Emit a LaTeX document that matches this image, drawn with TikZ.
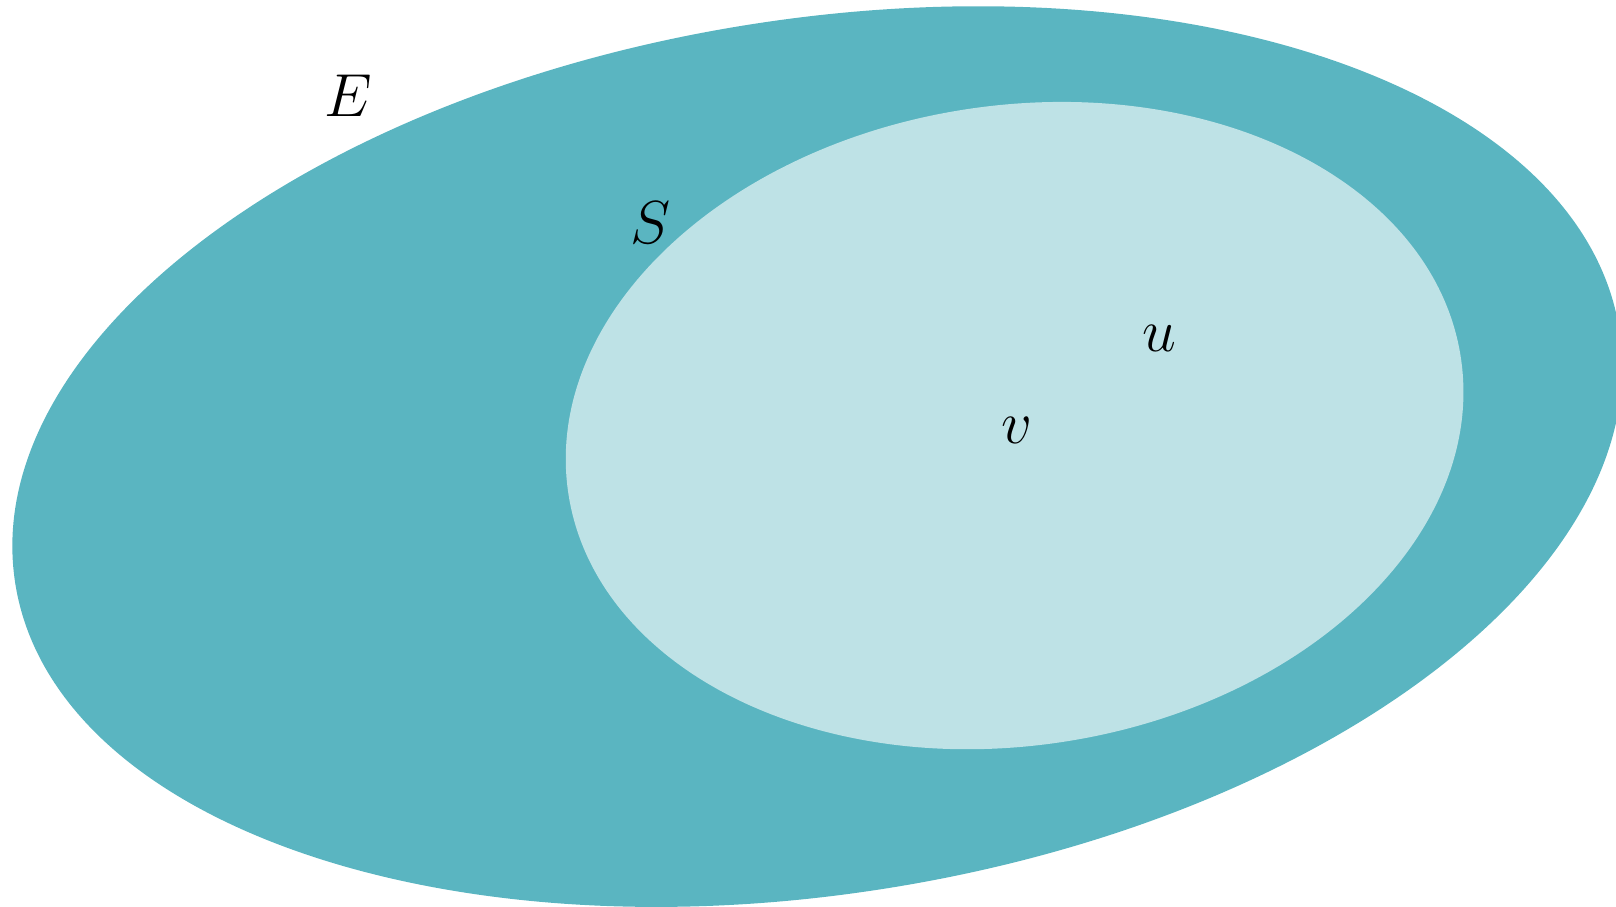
\documentclass[tikz,border=0pt]{standalone}
\usepackage{amsmath, amssymb}
\usepackage{tikz}
\usetikzlibrary{positioning}

\definecolor{setdark}{RGB}{90,181,193}
\definecolor{setlight}{RGB}{190,226,230}

\begin{document}
\begin{tikzpicture}[every node/.style={font=\fontsize{18}{20}\selectfont}]
  \useasboundingbox (0,0) rectangle (16.16,9.07);
  \clip (0,0) rectangle (16.16,9.07);
  % outer set E
  \fill[setdark, rotate around={9:(8.173,4.504)}]
    (8.173,4.504) ellipse [x radius=8.12, y radius=4.373];
  % inner set S
  \fill[setlight, rotate around={8.7:(10.146,4.814)}]
    (10.146,4.814) ellipse [x radius=4.514, y radius=3.20];
  % labels
  \node (labE) at (3.483, 8.112) {$E$};
  \node (labS) at (6.503, 6.844) {$S$};
  \node (labu) at (11.594, 5.69) {$u$};
  \node (labv) at (10.172, 4.762) {$v$};
\end{tikzpicture}
\end{document}
